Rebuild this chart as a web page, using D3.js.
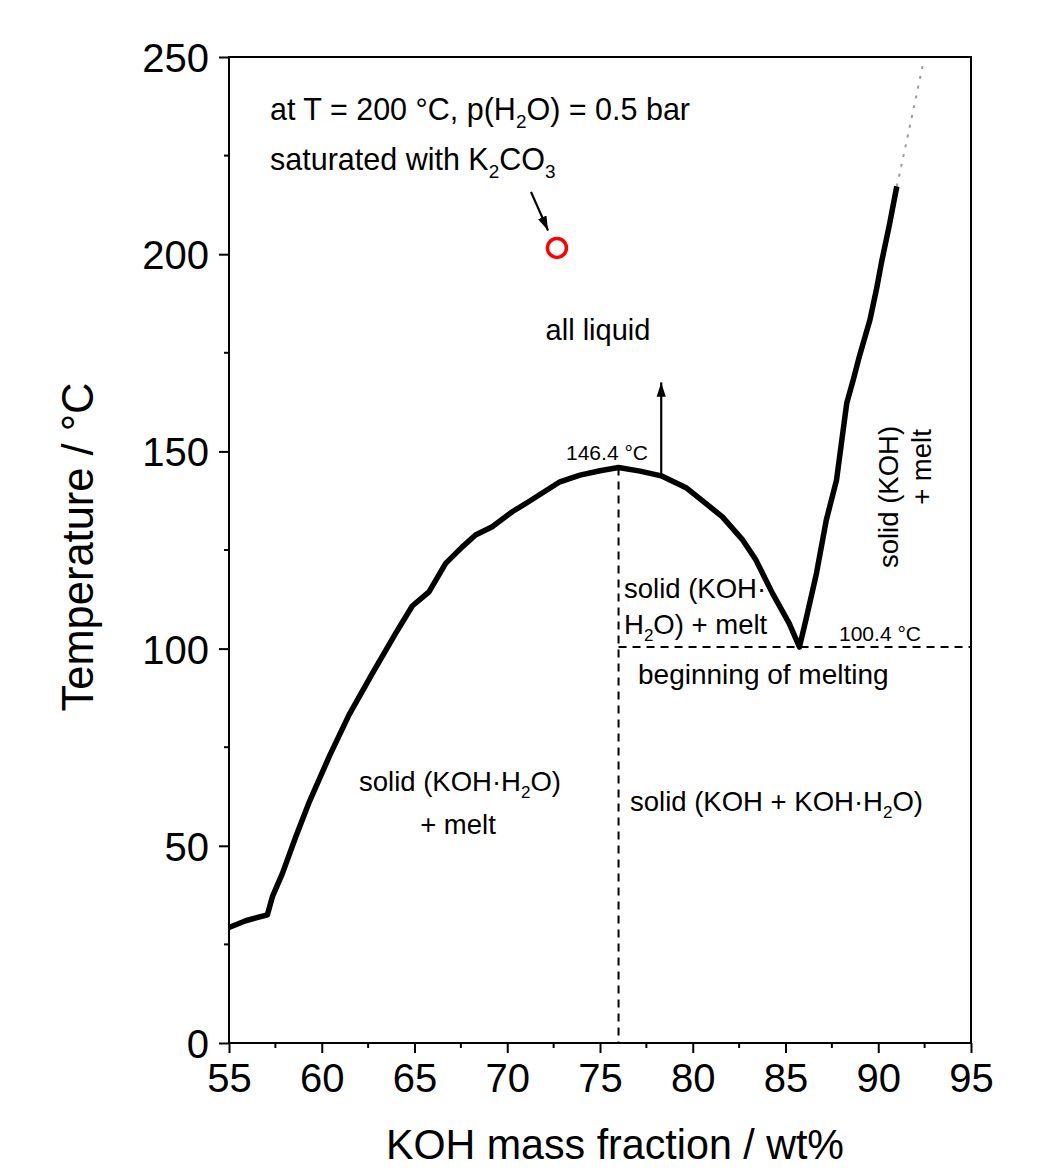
<!DOCTYPE html>
<html>
<head>
<script src="https://d3js.org/d3.v7.min.js"></script>
<style>
  body { margin: 0; background: #fff; }
  text { font-family: "Liberation Sans", Arial, sans-serif; fill: #000; }
</style>
</head>
<body>
<svg id="chart" width="1049" height="1170"></svg>
<script>
// liquidus curve
const koh = [55, 55.9, 57.07, 57.34, 57.88, 58.6, 59.3, 60.4, 61.47, 62.73, 63.99, 64.88, 65.78, 66.68, 67.58, 68.29, 69.19, 70.27, 71.17, 72.84, 73.92, 75.0, 76.0, 77.16, 78.3, 79.67, 80.7, 81.6, 82.7, 83.4, 84.3, 85.2, 85.75, 86.1, 86.67, 87.2, 87.75, 88.3, 88.65, 89.0, 89.55, 89.9, 90.2, 90.6, 91.0];
const temp = [29.3, 31.0, 32.5, 37.1, 43.0, 52.3, 60.8, 72.6, 83.2, 93.7, 103.9, 110.8, 114.4, 121.6, 125.8, 128.8, 130.9, 134.7, 137.3, 142.3, 144.0, 145.1, 145.9, 145.0, 143.8, 140.7, 136.8, 133.4, 127.5, 122.5, 114.0, 106.4, 100.4, 107.3, 119.1, 132.6, 142.7, 162.2, 168.1, 174.4, 183.3, 191, 198.5, 207.4, 217.2];
// extrapolated part (grey, dashed)
const kohExtra = [91.0, 91.5, 92.0, 92.4];
const tempExtra = [217.2, 228, 239, 248];

const xTicks = [55, 60, 65, 70, 75, 80, 85, 90, 95];
const yTicks = [0, 50, 100, 150, 200, 250];

const peak = {x: 76.0, t: 145.9, label: "146.4 °C"};
const eutectic = {x: 85.75, t: 100.4, label: "100.4 °C"};
const sample = {x: 72.68, t: 201.6};

const svg = d3.select("#chart");
const mLeft = 229, mRight = 971, mTop = 57, mBottom = 1043;

const x = d3.scaleLinear().domain([55, 95]).range([mLeft, mRight]);
const y = d3.scaleLinear().domain([0, 250]).range([mBottom, mTop]);

const defs = svg.append("defs");
defs.append("marker").attr("id", "head")
  .attr("viewBox", "0 0 10 10").attr("refX", 10).attr("refY", 5)
  .attr("markerWidth", 6.5).attr("markerHeight", 6.5).attr("orient", "auto")
  .attr("markerUnits", "strokeWidth")
  .append("path").attr("d", "M0,1.8 L10,5 L0,8.2 Z").attr("fill", "#000");

// dashed guide lines
svg.append("line")
  .attr("x1", x(peak.x)).attr("x2", x(peak.x))
  .attr("y1", y(peak.t)).attr("y2", y(0))
  .attr("stroke", "#000").attr("stroke-width", 2).attr("stroke-dasharray", "8,6");
svg.append("line")
  .attr("x1", x(peak.x)).attr("x2", x(95))
  .attr("y1", y(eutectic.t)).attr("y2", y(eutectic.t))
  .attr("stroke", "#000").attr("stroke-width", 2).attr("stroke-dasharray", "8,6");

// curves
const line = d3.line().x(d => x(d[0])).y(d => y(d[1]));
svg.append("path")
  .datum(d3.zip(kohExtra, tempExtra))
  .attr("d", line).attr("fill", "none")
  .attr("stroke", "#999").attr("stroke-width", 2).attr("stroke-dasharray", "3,7");
svg.append("path")
  .datum(d3.zip(koh, temp))
  .attr("d", line).attr("fill", "none")
  .attr("stroke", "#000").attr("stroke-width", 5.5).attr("stroke-linejoin", "round");

// arrows
svg.append("line")
  .attr("x1", x(78.3)).attr("x2", x(78.3))
  .attr("y1", y(143.8)).attr("y2", y(167.5))
  .attr("stroke", "#000").attr("stroke-width", 2.2).attr("marker-end", "url(#head)");
svg.append("line")
  .attr("x1", x(71.28)).attr("x2", x(72.2))
  .attr("y1", y(215.8)).attr("y2", y(206.0))
  .attr("stroke", "#000").attr("stroke-width", 2.2).attr("marker-end", "url(#head)");

// sample point
svg.append("circle")
  .attr("cx", x(sample.x)).attr("cy", y(sample.t)).attr("r", 9.5)
  .attr("fill", "none").attr("stroke", "#ff0000").attr("stroke-width", 3.5);

// axes
const xAxis = d3.axisBottom(x).tickValues(xTicks).tickSize(10).tickSizeOuter(0).tickPadding(11);
const yAxis = d3.axisLeft(y).tickValues(yTicks).tickSize(10).tickSizeOuter(0).tickPadding(10);

const gx = svg.append("g").attr("transform", `translate(0,${mBottom})`).call(xAxis);
const gy = svg.append("g").attr("transform", `translate(${mLeft},0)`).call(yAxis);
[gx, gy].forEach(g => {
  g.select(".domain").remove();
  g.selectAll(".tick line").attr("stroke", "#000").attr("stroke-width", 2);
  g.selectAll(".tick text").attr("font-size", 40).attr("font-family", "Liberation Sans, Arial, sans-serif").attr("fill", "#000");
});
gy.selectAll(".tick text").attr("dy", "0.36em");

// minor ticks
const xMinor = d3.range(57.5, 95, 5);
const yMinor = d3.range(25, 250, 50);
svg.append("g").selectAll("line").data(xMinor).join("line")
  .attr("x1", d => x(d)).attr("x2", d => x(d))
  .attr("y1", mBottom).attr("y2", mBottom + 5)
  .attr("stroke", "#000").attr("stroke-width", 2);
svg.append("g").selectAll("line").data(yMinor).join("line")
  .attr("x1", mLeft - 5).attr("x2", mLeft)
  .attr("y1", d => y(d)).attr("y2", d => y(d))
  .attr("stroke", "#000").attr("stroke-width", 2);

// frame
svg.append("rect")
  .attr("x", mLeft).attr("y", mTop).attr("width", mRight - mLeft).attr("height", mBottom - mTop)
  .attr("fill", "none").attr("stroke", "#000").attr("stroke-width", 2);

// axis titles
svg.append("text")
  .attr("x", 615).attr("y", 1159).attr("text-anchor", "middle")
  .attr("font-size", 42).attr("textLength", 458).attr("lengthAdjust", "spacingAndGlyphs")
  .text("KOH mass fraction / wt%");
svg.append("text")
  .attr("transform", "translate(93,547) rotate(-90)").attr("text-anchor", "middle")
  .attr("font-size", 44).attr("textLength", 329).attr("lengthAdjust", "spacingAndGlyphs")
  .text("Temperature / °C");

// annotation helper: parts are [text, isSub, dy]
function label(px, py, parts, size, anchor, rotate) {
  const t = svg.append("text")
    .attr("font-size", size)
    .attr("text-anchor", anchor || "start");
  if (rotate) t.attr("transform", `translate(${px},${py}) rotate(${rotate})`);
  else t.attr("x", px).attr("y", py);
  parts.forEach(p => {
    const s = t.append("tspan").text(p[0]);
    if (p[1]) s.attr("font-size", size * 0.62).attr("dy", size * 0.26);
    else s.attr("dy", p[2] || 0);
  });
  return t;
}
// after a subscript the following tspan must go back up
function parts(list, size) {
  const out = [];
  let prevSub = false;
  list.forEach(p => {
    const sub = typeof p !== "string";
    const txt = sub ? p.sub : p;
    if (sub) out.push([txt, true]);
    else out.push([txt, false, prevSub ? -size * 0.26 : 0]);
    prevSub = sub;
  });
  return out;
}

label(270, 120, parts(["at T = 200 °C, p(H", {sub: "2"}, "O) = 0.5 bar"], 30.5), 30.5);
label(270, 170, parts(["saturated with K", {sub: "2"}, "CO", {sub: "3"}], 30.5), 30.5);
label(598, 340, parts(["all liquid"], 29), 29, "middle");
label(607, 460, parts([peak.label], 21), 21, "middle");
label(880, 641, parts([eutectic.label], 21), 21, "middle");
label(624, 598, parts(["solid (KOH·"], 27.5), 27.5);
label(624, 634, parts(["H", {sub: "2"}, "O) + melt"], 27.5), 27.5);
label(638, 684, parts(["beginning of melting"], 28), 28);
label(460, 791, parts(["solid (KOH·H", {sub: "2"}, "O)"], 27.5), 27.5, "middle");
label(458, 834, parts(["+ melt"], 27.5), 27.5, "middle");
label(630, 811, parts(["solid (KOH + KOH·H", {sub: "2"}, "O)"], 27.5), 27.5);
label(898, 497, parts(["solid (KOH)"], 27.5), 27.5, "middle", -90);
label(931, 467, parts(["+ melt"], 27.5), 27.5, "middle", -90);
</script>
</body>
</html>
